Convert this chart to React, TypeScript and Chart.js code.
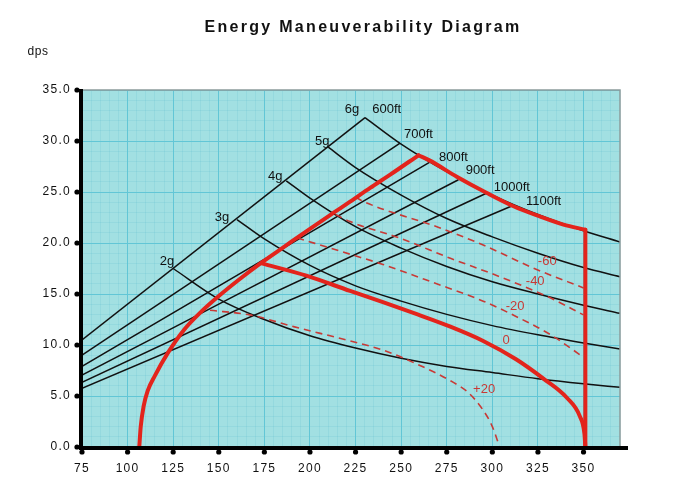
import React, { useEffect, useRef } from 'react';
import { Chart, registerables } from 'chart.js';

Chart.register(...registerables);

// ---------- data ----------
const chartTitle = 'Energy Maneuverability Diagram';
const yUnit = 'dps';
const xTickValues = [75, 100, 125, 150, 175, 200, 225, 250, 275, 300, 325, 350];
const yTickValues = [0, 5, 10, 15, 20, 25, 30, 35];
const xRange = [75, 370];
const yRange = [0, 35];

type P = { x: number; y: number };
const pts = (a: number[][]): P[] => a.map(([x, y]) => ({ x, y }));

// constant load factor lines
const g2 = pts([[125, 17.5], [150, 14.5], [175, 12.5], [200, 10.9], [225, 9.7], [250, 8.7], [275, 7.9], [300, 7.3], [325, 6.7], [350, 6.2], [370, 5.85]]);
const g3 = pts([[160, 22.3], [175, 20.4], [200, 17.8], [225, 15.8], [250, 14.3], [275, 13.0], [300, 11.9], [325, 11.0], [350, 10.2], [370, 9.6]]);
const g4 = pts([[187, 26.1], [200, 24.4], [225, 21.6], [250, 19.5], [275, 17.7], [300, 16.2], [325, 15.0], [350, 13.9], [370, 13.1]]);
const g5 = pts([[210, 29.4], [225, 27.4], [250, 24.7], [275, 22.4], [300, 20.6], [325, 19.0], [350, 17.6], [370, 16.7]]);
const g6 = pts([[230.2, 32.3], [250, 29.7], [275, 27.0], [300, 24.7], [325, 22.8], [350, 21.2], [370, 20.1]]);

// constant turn radius lines
const r600 = pts([[75, 10.5], [230.2, 32.3]]);
const r700 = pts([[75, 9.0], [249.4, 29.8]]);
const r800 = pts([[75, 7.9], [265.5, 27.9]]);
const r900 = pts([[75, 7.05], [281.4, 26.2]]);
const r1000 = pts([[75, 6.35], [297, 24.9]]);
const r1100 = pts([[75, 5.75], [311.6, 23.7]]);

// envelope (thick red)
const envelopeLeft = pts([[106.4, 0], [107.2, 2], [108.8, 4], [111, 5.5], [115, 7.0], [122, 9.2], [131, 11.5], [140, 13.2], [150, 14.8], [161, 16.4], [173.6, 18.1], [186, 19.65], [198, 21.15], [213, 22.97], [222, 24.05], [233, 25.4], [244, 26.7], [259.5, 28.6]]);
const envelopeRight = pts([[259.5, 28.6], [265.5, 28.1], [280.5, 26.5], [297, 24.9], [311.6, 23.6], [326, 22.6], [339, 21.8], [351, 21.3]]);
const speedLimit = pts([[351, 21.3], [351, 0]]);
const ps0 = pts([[173.6, 18.0], [198, 16.8], [222, 15.3], [240, 14.2], [259, 13.0], [277, 11.8], [295, 10.4], [313, 8.6], [328, 6.7], [341, 4.8], [348, 3.0], [350.5, 1.3], [351, 0]]);

// specific excess power contours (dashed)
const psPlus20 = pts([[145.2, 13.4], [167, 12.95], [191, 11.8], [222, 10.4], [240, 9.5], [259, 8.1], [277, 6.5], [287, 5.3], [295, 3.6], [300, 2.0], [304, 0]]);
const psMinus20 = pts([[193, 20.5], [222, 18.9], [240, 17.9], [268, 16.1], [295, 14.3], [313, 12.8], [332, 11.0], [350, 8.8]]);
const psMinus40 = pts([[214, 22.8], [222, 22.1], [249, 20.5], [277, 18.5], [304, 16.7], [332, 14.6], [350, 12.95]]);
const psMinus60 = pts([[225, 24.5], [229, 24.1], [271, 21.5], [295, 19.8], [323, 17.5], [350, 15.6]]);

// annotations
const blackLabels = [
  { text: '2g', x: 121.6, y: 18.15 },
  { text: '3g', x: 151.8, y: 22.5 },
  { text: '4g', x: 180.9, y: 26.5 },
  { text: '5g', x: 206.7, y: 30.0 },
  { text: '6g', x: 223.0, y: 33.07 },
  { text: '600ft', x: 242.1, y: 33.14 },
  { text: '700ft', x: 259.5, y: 30.6 },
  { text: '800ft', x: 278.7, y: 28.4 },
  { text: '900ft', x: 293.3, y: 27.1 },
  { text: '1000ft', x: 310.7, y: 25.4 },
  { text: '1100ft', x: 328.1, y: 24.1 },
];
const redLabels = [
  { text: '-60', x: 330.1, y: 18.2 },
  { text: '-40', x: 323.5, y: 16.2 },
  { text: '-20', x: 312.5, y: 13.8 },
  { text: '0', x: 307.6, y: 10.4 },
  { text: '+20', x: 295.5, y: 5.6 },
];

// ---------- styles ----------
const FONT = '"Liberation Sans", Arial, Helvetica, sans-serif';
const BLACK = '#111111';
const RED = '#e3241c';
const DRED = '#c83a36';

const blackLine = (data: P[]) => ({
  data, borderColor: BLACK, borderWidth: 1.5, pointRadius: 0, cubicInterpolationMode: 'monotone', order: 3, fill: false,
});
const dashLine = (data: P[]) => ({
  data, borderColor: DRED, borderWidth: 1.6, borderDash: [7, 5], pointRadius: 0, cubicInterpolationMode: 'monotone', order: 2, fill: false,
});
const thickLine = (data: P[], smooth = true) => ({
  data, borderColor: RED, borderWidth: 4, pointRadius: 0, tension: smooth ? 0.4 : 0,
  cubicInterpolationMode: smooth ? 'monotone' : 'default', order: 1, fill: false,
  borderCapStyle: 'round', borderJoinStyle: 'round',
});

const decorPlugin = {
  id: 'decor',
  beforeDraw(chart: any) {
    const { ctx, chartArea: a } = chart;
    ctx.save();
    ctx.fillStyle = '#ffffff';
    ctx.fillRect(0, 0, chart.width, chart.height);
    ctx.fillStyle = '#a2e0e2';
    ctx.fillRect(a.left, a.top, a.right - a.left, a.bottom - a.top);
    ctx.restore();
    (ctx as any).letterSpacing = '1.3px';
  },
  afterDatasetsDraw(chart: any) {
    const { ctx, scales } = chart;
    const xs = scales.x, ys = scales.y;
    ctx.save();
    (ctx as any).letterSpacing = '0px';
    ctx.textAlign = 'center';
    ctx.textBaseline = 'middle';
    ctx.font = `13px ${FONT}`;
    ctx.fillStyle = BLACK;
    blackLabels.forEach((l) => ctx.fillText(l.text, xs.getPixelForValue(l.x), ys.getPixelForValue(l.y)));
    ctx.fillStyle = DRED;
    redLabels.forEach((l) => ctx.fillText(l.text, xs.getPixelForValue(l.x), ys.getPixelForValue(l.y)));
    ctx.restore();
  },
  afterDraw(chart: any) {
    const { ctx, chartArea: a, scales } = chart;
    ctx.save();
    (ctx as any).letterSpacing = '0px';
    // top/right frame
    ctx.strokeStyle = '#8c9c9c';
    ctx.lineWidth = 1.5;
    ctx.beginPath();
    ctx.moveTo(a.left, a.top);
    ctx.lineTo(a.right, a.top);
    ctx.lineTo(a.right, a.bottom);
    ctx.stroke();
    // thick axes
    ctx.strokeStyle = '#000';
    ctx.lineWidth = 4;
    ctx.beginPath();
    ctx.moveTo(a.left - 1, a.top - 1);
    ctx.lineTo(a.left - 1, a.bottom + 2);
    ctx.moveTo(a.left - 3, a.bottom + 1);
    ctx.lineTo(a.right + 8, a.bottom + 1);
    ctx.stroke();
    // tick dots
    ctx.fillStyle = '#000';
    yTickValues.forEach((v) => {
      const py = scales.y.getPixelForValue(v);
      ctx.beginPath();
      ctx.arc(a.left - 5, py, 2.6, 0, Math.PI * 2);
      ctx.fill();
    });
    xTickValues.forEach((v) => {
      const px = scales.x.getPixelForValue(v);
      ctx.beginPath();
      ctx.arc(px, a.bottom + 5, 2.6, 0, Math.PI * 2);
      ctx.fill();
    });
    // title
    ctx.fillStyle = '#111';
    ctx.textAlign = 'center';
    ctx.textBaseline = 'middle';
    (ctx as any).letterSpacing = '2.3px';
    ctx.font = `bold 16px ${FONT}`;
    ctx.fillText(chartTitle, 363, 28);
    (ctx as any).letterSpacing = '0.5px';
    ctx.font = `12px ${FONT}`;
    ctx.fillText(yUnit, 38, 52);
    ctx.restore();
  },
};

export default function App() {
  const ref = useRef<HTMLCanvasElement | null>(null);
  useEffect(() => {
    if (!ref.current) return;
    const chart = new Chart(ref.current, {
      type: 'line',
      data: {
        datasets: [
          thickLine(envelopeLeft),
          thickLine(envelopeRight),
          thickLine(speedLimit, false),
          thickLine(ps0),
          dashLine(psPlus20),
          dashLine(psMinus20),
          dashLine(psMinus40),
          dashLine(psMinus60),
          blackLine(g2), blackLine(g3), blackLine(g4), blackLine(g5), blackLine(g6),
          blackLine(r600), blackLine(r700), blackLine(r800), blackLine(r900), blackLine(r1000), blackLine(r1100),
        ] as any,
      },
      options: {
        responsive: false,
        animation: false,
        events: [],
        layout: { padding: { left: 0, top: 90, right: 61, bottom: 0 } },
        plugins: { legend: { display: false }, tooltip: { enabled: false }, title: { display: false } },
        scales: {
          xm: {
            type: 'linear', position: 'bottom', min: xRange[0], max: xRange[1],
            afterBuildTicks: (s: any) => { const t = []; for (let v = xRange[0]; v <= xRange[1]; v += 5) t.push({ value: v }); s.ticks = t; },
            ticks: { display: false },
            grid: { color: 'rgba(60,175,195,0.12)', lineWidth: 1, drawTicks: false },
            border: { display: false },
            afterFit: (s: any) => { s.height = 0; },
          },
          ym: {
            type: 'linear', position: 'left', min: yRange[0], max: yRange[1],
            afterBuildTicks: (s: any) => { const t = []; for (let v = yRange[0]; v <= yRange[1]; v += 1) t.push({ value: v }); s.ticks = t; },
            ticks: { display: false },
            grid: { color: 'rgba(60,175,195,0.12)', lineWidth: 1, drawTicks: false },
            border: { display: false },
            afterFit: (s: any) => { s.width = 0; },
          },
          x: {
            type: 'linear', position: 'bottom', min: xRange[0], max: xRange[1],
            afterBuildTicks: (s: any) => { s.ticks = xTickValues.map((v) => ({ value: v })); },
            ticks: { color: '#111', font: { family: FONT, size: 12 }, padding: 14, maxRotation: 0, autoSkip: false },
            grid: { color: '#62c6d6', lineWidth: 1, drawTicks: false },
            border: { display: false },
            afterFit: (s: any) => { s.height = 39; },
          },
          y: {
            type: 'linear', position: 'left', min: yRange[0], max: yRange[1],
            afterBuildTicks: (s: any) => { s.ticks = yTickValues.map((v) => ({ value: v })); },
            ticks: { color: '#111', font: { family: FONT, size: 12 }, padding: 11, callback: (v: any) => Number(v).toFixed(1), autoSkip: false },
            grid: { color: '#62c6d6', lineWidth: 1, drawTicks: false },
            border: { display: false },
            afterFit: (s: any) => { s.width = 82; },
          },
        },
      } as any,
      plugins: [decorPlugin],
    });
    return () => chart.destroy();
  }, []);
  return (
    <div style={{ position: 'fixed', left: 0, top: 0, width: 681, height: 486, background: '#fff' }}>
      <canvas ref={ref} width={681} height={486} style={{ display: 'block' }} />
    </div>
  );
}
